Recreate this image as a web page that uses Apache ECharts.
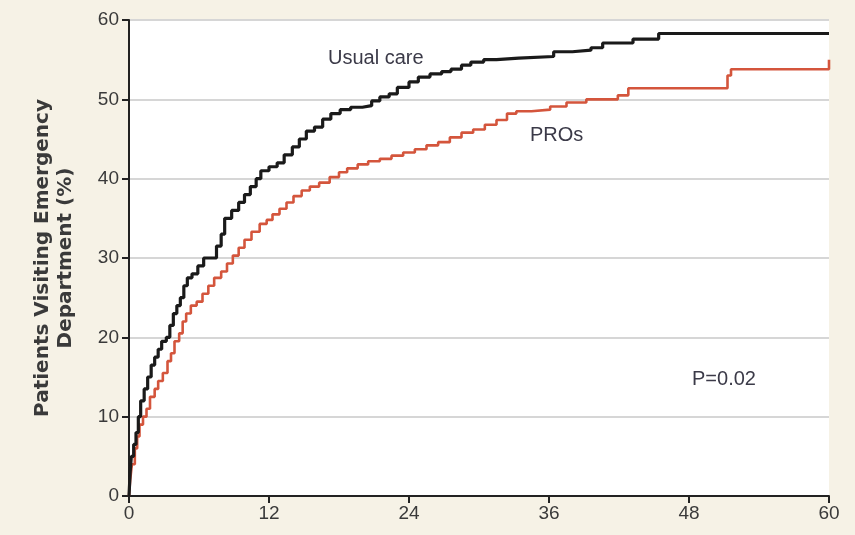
<!DOCTYPE html>
<html>
<head>
<meta charset="utf-8">
<script src="https://cdn.jsdelivr.net/npm/echarts@6.0.0/dist/echarts.min.js"></script>
<style>
  html, body { margin: 0; padding: 0; background: #f6f2e6; }
  #main { width: 855px; height: 535px; }
</style>
</head>
<body>
<div id="main"></div>
<script>
// months since randomisation
const usualMonths = [0, 0.1, 0.2, 0.4, 0.6, 0.8, 1.0, 1.3, 1.6, 1.9, 2.2, 2.5, 2.8, 3.2, 3.5, 3.8, 4.1, 4.4, 4.7, 5.0,
  5.4, 5.9, 6.4, 7.0, 7.5, 7.9, 8.2, 8.8, 9.4, 9.9, 10.4, 10.9, 11.3, 12.0, 12.7, 13.3, 14.0, 14.6, 15.2, 15.9,
  16.6, 17.3, 18.1, 19.0, 20.0, 20.8, 21.5, 22.3, 23.0, 24.0, 24.8, 25.8, 26.8, 27.6, 28.5, 29.3, 30.4, 31.5,
  33.4, 36.4, 38.0, 39.6, 40.6, 43.2, 45.4, 60];
const usualPct = [0, 3, 5, 6.5, 8, 10, 12, 13.5, 15, 16.5, 17.5, 18.5, 19.5, 20, 21.5, 23, 24, 25, 26.5, 27.5,
  28, 29, 30, 30, 31.5, 33, 35, 36, 37, 38, 39, 40, 41, 41.5, 42, 43, 44, 45, 46, 46.5,
  47.5, 48.2, 48.7, 49, 49.2, 49.8, 50.3, 50.7, 51.5, 52.2, 52.8, 53.2, 53.5, 53.8, 54.3, 54.7, 55, 55.2,
  55.4, 56, 56.2, 56.5, 57.1, 57.6, 58.3, 58.3];

const prosMonths = [0, 0.1, 0.25, 0.5, 0.7, 0.9, 1.2, 1.5, 1.8, 2.2, 2.5, 2.9, 3.3, 3.6, 3.9, 4.3, 4.6, 4.9, 5.3, 5.8,
  6.3, 6.8, 7.3, 7.9, 8.4, 8.9, 9.4, 9.9, 10.5, 11.2, 11.8, 12.3, 12.9, 13.5, 14.1, 14.8, 15.5, 16.3, 17.2, 18.0,
  18.7, 19.6, 20.5, 21.5, 22.5, 23.5, 24.5, 25.5, 26.5, 27.5, 28.5, 29.5, 30.5, 31.5, 32.4, 33.2, 34.5, 36.1,
  37.5, 39.2, 41.9, 42.8, 51.0, 51.3, 51.6, 59.8, 60];
const prosPct = [0, 2, 4, 6, 7.5, 9, 10, 11, 12.5, 13.5, 14.5, 15.5, 17, 18, 19.5, 20.5, 22, 23, 24, 24.5,
  25.5, 26.5, 27.5, 28.3, 29.3, 30.3, 31.3, 32.3, 33.3, 34.3, 34.8, 35.5, 36.2, 37, 37.8, 38.5, 39, 39.5, 40.2, 40.8,
  41.3, 41.8, 42.2, 42.5, 42.9, 43.3, 43.7, 44.2, 44.6, 45.2, 45.8, 46.2, 46.8, 47.4, 48.2, 48.5, 48.7, 49.1,
  49.6, 50, 50.5, 51.4, 51.4, 53, 53.8, 53.8, 55];

const xTicks = [0, 12, 24, 36, 48, 60];
const yTicks = [0, 10, 20, 30, 40, 50, 60];

const zip = (a, b) => a.map((v, i) => [v, b[i]]);
const font = '"Liberation Sans", sans-serif';

const chart = echarts.init(document.getElementById('main'));
chart.setOption({
  backgroundColor: '#f6f2e6',
  animation: false,
  grid: { left: 129, right: 26, top: 20, bottom: 39, show: true, backgroundColor: '#ffffff', borderWidth: 0 },
  xAxis: {
    type: 'value', min: 0, max: 60, interval: 12,
    axisLine: { show: true, lineStyle: { color: '#222', width: 2 } },
    axisTick: { show: true, length: 7, lineStyle: { color: '#222', width: 2 } },
    axisLabel: { color: '#3a3a3a', fontSize: 19, fontFamily: font, margin: 8,
      formatter: v => xTicks.includes(v) ? String(v) : '' },
    splitLine: { show: false }
  },
  yAxis: {
    type: 'value', min: 0, max: 60, interval: 10,
    name: 'Patients Visiting Emergency\nDepartment (%)',
    nameLocation: 'middle', nameGap: 52, nameRotate: 90,
    nameTextStyle: { color: '#3a3a3a', fontSize: 20, fontWeight: 'bold', fontFamily: '"DejaVu Sans", sans-serif', lineHeight: 23 },
    axisLine: { show: true, lineStyle: { color: '#222', width: 2 } },
    axisTick: { show: true, length: 7, lineStyle: { color: '#222', width: 2 } },
    axisLabel: { color: '#3a3a3a', fontSize: 19, fontFamily: font, margin: 10,
      formatter: v => yTicks.includes(v) ? String(v) : '' },
    splitLine: { show: true, lineStyle: { color: '#d6d6d6', width: 2 } }
  },
  series: [
    {
      name: 'Usual care', type: 'line', step: 'end', showSymbol: false,
      data: zip(usualMonths, usualPct),
      lineStyle: { color: '#1a1a1a', width: 3.2 }, z: 3
    },
    {
      name: 'PROs', type: 'line', step: 'end', showSymbol: false,
      data: zip(prosMonths, prosPct),
      lineStyle: { color: '#d4553c', width: 2.6 }, z: 2
    }
  ],
  graphic: [
    { type: 'text', left: 328, top: 48, style: { text: 'Usual care', fill: '#3b3a48', fontSize: 20, fontFamily: font } },
    { type: 'text', left: 530, top: 125, style: { text: 'PROs', fill: '#3b3a48', fontSize: 20, fontFamily: font } },
    { type: 'text', left: 692, top: 369, style: { text: 'P=0.02', fill: '#3b3a48', fontSize: 20, fontFamily: font } }
  ]
});
</script>
</body>
</html>
